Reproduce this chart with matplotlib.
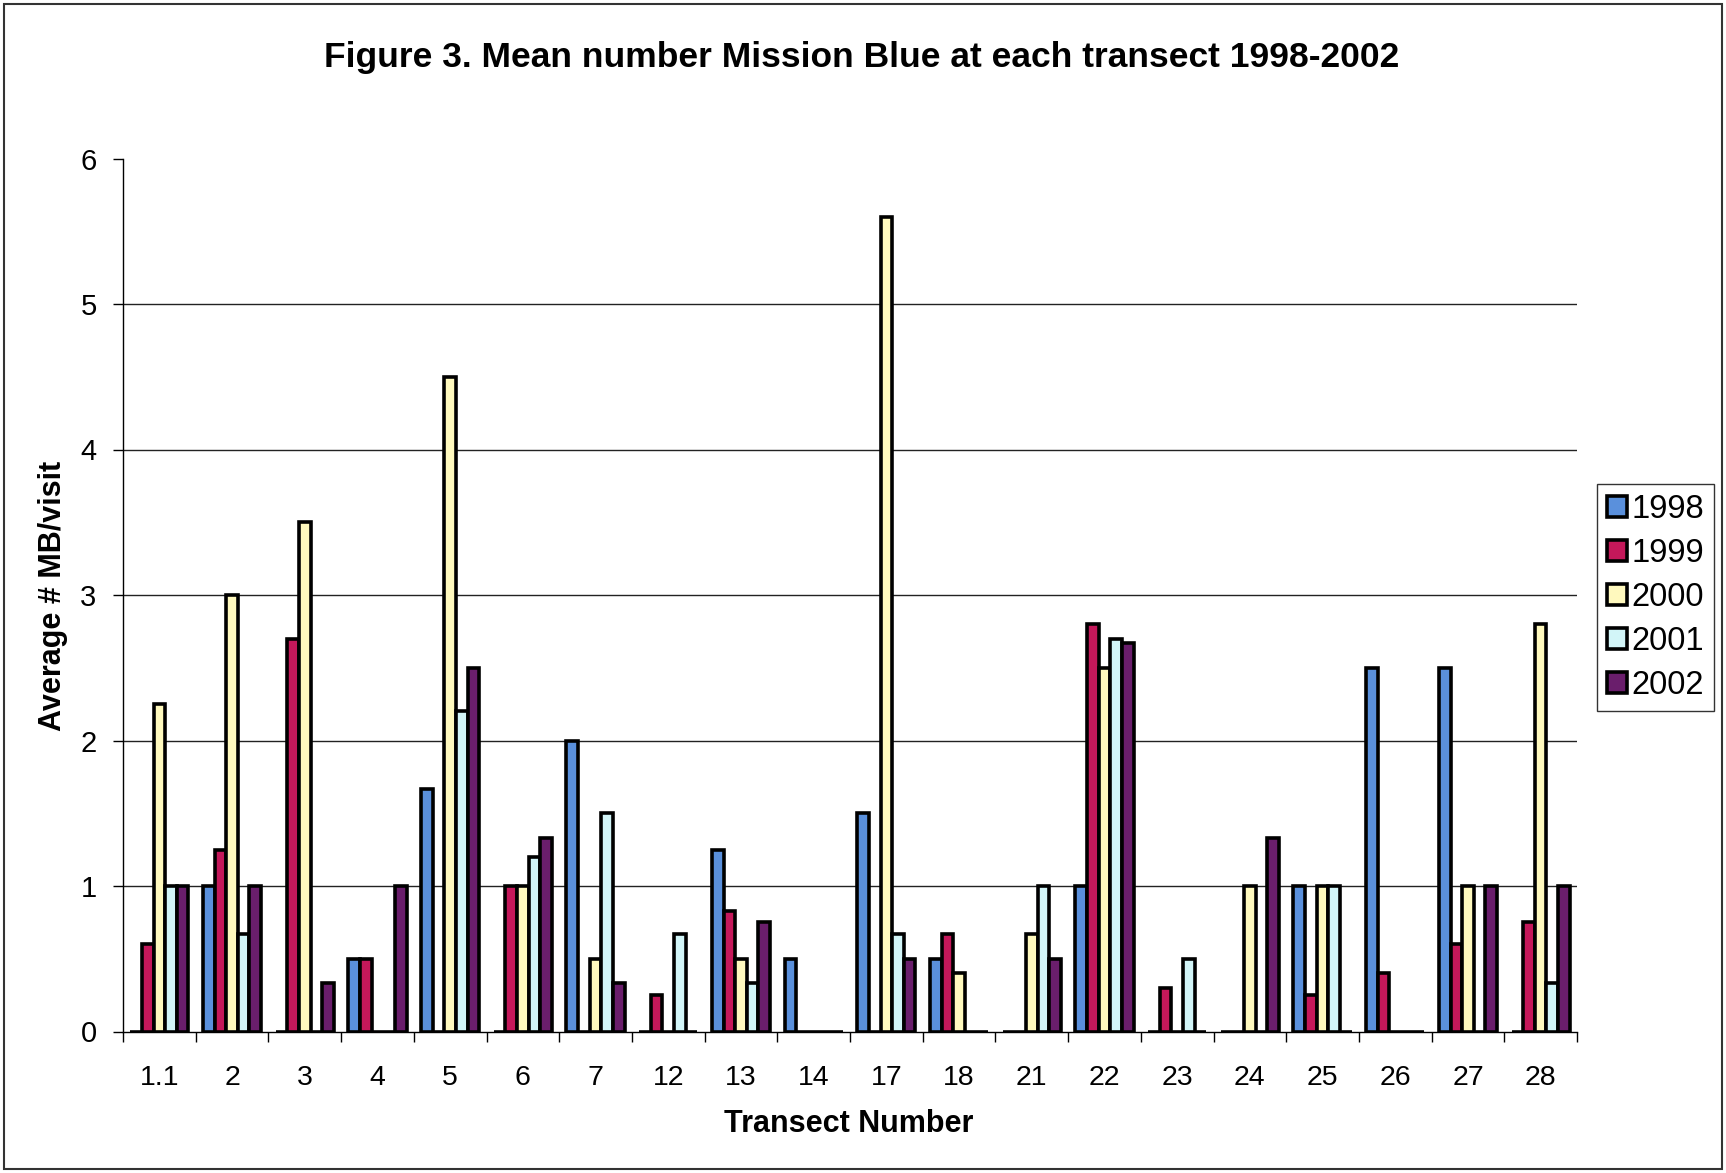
import matplotlib
matplotlib.use("Agg")
import matplotlib.pyplot as plt
import numpy as np
from matplotlib.patches import Rectangle

# Transects and yearly mean counts of Mission Blue per visit
transects = ["1.1", "2", "3", "4", "5", "6", "7", "12", "13", "14",
             "17", "18", "21", "22", "23", "24", "25", "26", "27", "28"]
years = ["1998", "1999", "2000", "2001", "2002"]

y1998 = [0, 1, 0, 0.5, 1.67, 0, 2, 0, 1.25, 0.5,
         1.5, 0.5, 0, 1, 0, 0, 1, 2.5, 2.5, 0]
y1999 = [0.6, 1.25, 2.7, 0.5, 0, 1, 0, 0.25, 0.83, 0,
         0, 0.67, 0, 2.8, 0.3, 0, 0.25, 0.4, 0.6, 0.75]
y2000 = [2.25, 3, 3.5, 0, 4.5, 1, 0.5, 0, 0.5, 0,
         5.6, 0.4, 0.67, 2.5, 0, 1, 1, 0, 1, 2.8]
y2001 = [1, 0.67, 0, 0, 2.2, 1.2, 1.5, 0.67, 0.33, 0,
         0.67, 0, 1, 2.7, 0.5, 0, 1, 0, 0, 0.33]
y2002 = [1, 1, 0.33, 1, 2.5, 1.33, 0.33, 0, 0.75, 0,
         0.5, 0, 0.5, 2.67, 0, 1.33, 0, 0, 1, 1]

series = [y1998, y1999, y2000, y2001, y2002]
colors = ["#5A90DC", "#C4185A", "#FFF9BE", "#D2F5F8", "#6A1E6C"]

W, H = 1726, 1173
fig = plt.figure(figsize=(W / 100, H / 100), dpi=100)
fig.patch.set_facecolor("white")

ax = fig.add_axes([123 / W, 1 - 1031.5 / H, (1577 - 123) / W, (1031.5 - 158.5) / H])

x = np.arange(len(transects))
bw = 0.16
for k, (vals, col, lab) in enumerate(zip(series, colors, years)):
    ax.bar(x + (k - 2) * bw, vals, width=bw, color=col, edgecolor="black",
           linewidth=2.6, label=lab, zorder=3)

ax.set_xlim(-0.5, len(transects) - 0.5)
ax.set_ylim(0, 6)
ax.set_yticks(range(0, 7))
for v in range(1, 6):
    ax.axhline(v, color="#222222", linewidth=1.0, zorder=1)

for s in ["top", "right"]:
    ax.spines[s].set_visible(False)
for s in ["left", "bottom"]:
    ax.spines[s].set_color("black")
    ax.spines[s].set_linewidth(1.0)
    ax.spines[s].set_zorder(4)

ax.set_xticks(x)
ax.set_xticklabels(transects)
ax.set_xticks(np.arange(-0.5, len(transects)), minor=True)
ax.tick_params(axis="x", which="major", length=0, pad=24, labelsize=20.5)
ax.tick_params(axis="x", which="minor", length=7, width=1.0, direction="out")
ax.tick_params(axis="y", length=7, width=1.0, direction="out", pad=12, labelsize=21)
for t in ax.get_xticklabels() + ax.get_yticklabels():
    t.set_fontfamily(["Liberation Sans", "DejaVu Sans"])

bold_font = ["Liberation Sans", "DejaVu Sans"]
fig.text(0.4994, 1 - 57 / H, "Figure 3. Mean number Mission Blue at each transect 1998-2002",
         ha="center", va="center", fontsize=25.5, fontweight="bold", family=bold_font)
fig.text(849 / W, 1 - 1124 / H, "Transect Number", ha="center", va="center",
         fontsize=22, fontweight="bold", family=bold_font)
fig.text(53 / W, 1 - 596 / H, "Average # MB/visit", ha="center", va="center",
         rotation=90, fontsize=22, fontweight="bold", family=bold_font)

leg = fig.legend(loc="upper right", bbox_to_anchor=(1714 / W, 1 - 484 / H),
                 bbox_transform=fig.transFigure, frameon=True, fancybox=False,
                 edgecolor="black", handlelength=0.6, handleheight=0.6,
                 handletextpad=0.15, labelspacing=0.4, borderpad=0.3,
                 borderaxespad=0, prop={"family": "Liberation Sans", "size": 23.5})
leg.get_frame().set_linewidth(1.0)

# Outer chart border
fig.add_artist(Rectangle((4 / W, 4 / H), (W - 8) / W, (H - 8) / H,
                         transform=fig.transFigure, fill=False,
                         edgecolor="#333333", linewidth=1.5))

fig.savefig("out.png", dpi=100, facecolor="white")
